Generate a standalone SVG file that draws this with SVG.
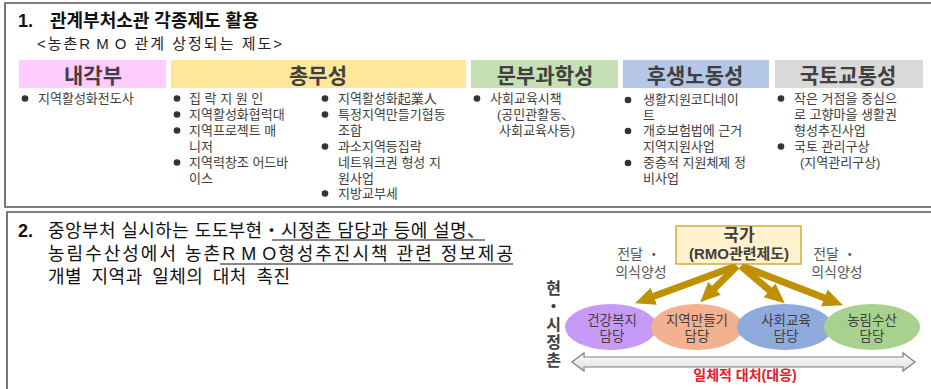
<svg xmlns="http://www.w3.org/2000/svg" width="931" height="389" viewBox="0 0 931 389">
<defs>
<style>
text{font-family:"Liberation Sans","Noto Sans CJK KR",sans-serif;}
.title{font-size:18px;font-weight:700;fill:#111;}
.sub{font-size:15px;fill:#222;}
.hd{font-size:21px;font-weight:700;fill:#404040;text-anchor:middle;}
.li{font-size:13px;fill:#404040;}
.dot{fill:#333;}
.frame{fill:none;stroke:#555;stroke-width:1.6;}
.s2{font-size:18px;fill:#111;}
.ul{stroke:#111;stroke-width:1;}
.lbl{font-size:14px;fill:#595959;text-anchor:middle;}
.el{font-size:13.5px;fill:#404040;text-anchor:middle;}
.arr{stroke:#bf9000;stroke-width:7;fill:none;marker-end:url(#ah);}
</style>
<marker id="ah" markerUnits="userSpaceOnUse" markerWidth="22" markerHeight="20" refX="8" refY="9" orient="auto">
<path d="M0,0 L20,9 L0,18 z" fill="#bf9000"/>
</marker>
<linearGradient id="ga" x1="0" y1="0" x2="0" y2="1">
<stop offset="0" stop-color="#ffffff"/>
<stop offset="1" stop-color="#dcdcdc"/>
</linearGradient>
</defs>

<g id="section1">
<path class="frame" d="M940,3 H5 V207 H940"/>
<text class="title" x="18" y="27">1.</text>
<text class="title" x="50" y="27">관계부처소관 각종제도 활용</text>
<text class="sub" x="37" y="49" textLength="245" lengthAdjust="spacing">&lt;농촌<tspan letter-spacing="4">RM</tspan>O 관계 상정되는 제도&gt;</text>
</g>

<g id="head-naikaku">
<rect x="19" y="60" width="147" height="28" fill="#ffccff"/>
<text class="hd" x="93" y="83">내각부</text>
</g>
<g id="head-somu">
<rect x="171" y="60" width="295" height="28" fill="#ffe699"/>
<text class="hd" x="318" y="83">총무성</text>
</g>
<g id="head-monbu">
<rect x="471" y="60" width="147" height="28" fill="#c5e0b4"/>
<text class="hd" x="545" y="83">문부과학성</text>
</g>
<g id="head-kosei">
<rect x="623" y="60" width="146" height="28" fill="#b4c7e7"/>
<text class="hd" x="695" y="83">후생노동성</text>
</g>
<g id="head-kokudo">
<rect x="775" y="60" width="148" height="28" fill="#d9d9d9"/>
<text class="hd" x="848" y="83">국토교통성</text>
</g>

<g id="list-naikaku">
<circle class="dot" cx="25" cy="98.5" r="3.3"/>
<text class="li" x="38" y="103">지역활성화전도사</text>
</g>

<g id="list-somu-a">
<circle class="dot" cx="177" cy="98.5" r="3.3"/>
<text class="li" x="189" y="103">집 락 지 원 인</text>
<circle class="dot" cx="177" cy="114.5" r="3.3"/>
<text class="li" x="189" y="119">지역활성화협력대</text>
<circle class="dot" cx="177" cy="130.5" r="3.3"/>
<text class="li" x="189" y="135">지역프로젝트 매</text>
<text class="li" x="189" y="151">니저</text>
<circle class="dot" cx="177" cy="162.5" r="3.3"/>
<text class="li" x="189" y="167">지역력창조 어드바</text>
<text class="li" x="189" y="183">이스</text>
</g>

<g id="list-somu-b">
<circle class="dot" cx="325" cy="98.5" r="3.3"/>
<text class="li" x="338" y="103">지역활성화起業人</text>
<circle class="dot" cx="325" cy="114.5" r="3.3"/>
<text class="li" x="338" y="119">특정지역만들기협동</text>
<text class="li" x="338" y="135">조합</text>
<circle class="dot" cx="325" cy="146.5" r="3.3"/>
<text class="li" x="338" y="151">과소지역등집락</text>
<text class="li" x="338" y="167">네트워크권 형성 지</text>
<text class="li" x="338" y="183">원사업</text>
<circle class="dot" cx="325" cy="193.5" r="3.3"/>
<text class="li" x="338" y="198">지방교부세</text>
</g>

<g id="list-monbu">
<circle class="dot" cx="477" cy="98.5" r="3.3"/>
<text class="li" x="490" y="103">사회교육시책</text>
<text class="li" x="497" y="119">(공민관활동、</text>
<text class="li" x="499" y="135">사회교육사등)</text>
</g>

<g id="list-kosei">
<circle class="dot" cx="628" cy="100" r="3.3"/>
<text class="li" x="643" y="104">생활지원코디네이</text>
<text class="li" x="643" y="120">트</text>
<circle class="dot" cx="628" cy="131" r="3.3"/>
<text class="li" x="643" y="135">개호보험법에 근거</text>
<text class="li" x="643" y="151">지역지원사업</text>
<circle class="dot" cx="628" cy="163" r="3.3"/>
<text class="li" x="643" y="167">중층적 지원체제 정</text>
<text class="li" x="643" y="183">비사업</text>
</g>

<g id="list-kokudo">
<circle class="dot" cx="781" cy="98.5" r="3.3"/>
<text class="li" x="794" y="103">작은 거점을 중심으</text>
<text class="li" x="794" y="119">로 고향마을 생활권</text>
<text class="li" x="794" y="135">형성추진사업</text>
<circle class="dot" cx="781" cy="146.5" r="3.3"/>
<text class="li" x="794" y="151">국토 관리구상</text>
<text class="li" x="800" y="167">(지역관리구상)</text>
</g>

<g id="section2">
<path class="frame" d="M940,212 H7 V400"/>
<text class="s2" x="18" y="237" font-weight="700">2.</text>
<text class="s2" x="48" y="237" textLength="437" lengthAdjust="spacing">중앙부처 실시하는 도도부현・시정촌  담당과 등에 설명、</text>
<text class="s2" x="48" y="260" textLength="465" lengthAdjust="spacing">농림수산성에서 농촌<tspan letter-spacing="4">RM</tspan>O형성추진시책 관련 정보제공</text>
<text class="s2" x="48" y="283" word-spacing="4" textLength="242" lengthAdjust="spacing">개별 지역과 일체의 대처 촉진</text>
<line class="ul" x1="272" y1="240" x2="485" y2="240"/>
<line class="ul" x1="220" y1="264" x2="513" y2="264"/>
</g>

<g id="side-label">
<text x="552" y="280" font-size="16" font-weight="700" fill="#404040" writing-mode="vertical-rl" letter-spacing="2">현・시정촌</text>
</g>

<g id="node-health">
<ellipse cx="611" cy="327" rx="46" ry="23" fill="#c89af8"/>
<text class="el" x="612" y="325">건강복지</text>
<text class="el" x="612" y="341">담당</text>
</g>
<g id="node-region">
<ellipse cx="697" cy="327" rx="46" ry="23" fill="#f4b18f"/>
<text class="el" x="697" y="325">지역만들기</text>
<text class="el" x="697" y="341">담당</text>
</g>
<g id="node-social">
<ellipse cx="785" cy="327" rx="48" ry="23" fill="#8faadc"/>
<text class="el" x="786" y="325">사회교육</text>
<text class="el" x="786" y="341">담당</text>
</g>
<g id="node-agri">
<ellipse cx="872" cy="327" rx="48" ry="23" fill="#a9d18e"/>
<text class="el" x="872" y="325">농림수산</text>
<text class="el" x="872" y="341">담당</text>
</g>

<g id="connectors">
<line class="arr" x1="736" y1="266" x2="646.3" y2="299"/>
<line class="arr" x1="737" y1="266" x2="708.8" y2="293.9"/>
<line class="arr" x1="741" y1="266" x2="775.6" y2="295.5"/>
<line class="arr" x1="742" y1="266" x2="831.8" y2="300.8"/>
</g>

<g id="node-state">
<rect x="676" y="226" width="125" height="38" fill="#fff2cc" stroke="#c9a227" stroke-width="1.3"/>
<text x="739" y="241" font-size="17" font-weight="700" fill="#404040" text-anchor="middle">국가</text>
<text x="739" y="259" font-size="15" font-weight="700" fill="#404040" text-anchor="middle">(RMO관련제도)</text>
</g>

<g id="label-left">
<text class="lbl" x="639" y="259">전달 ・</text>
<text class="lbl" x="641" y="277">의식양성</text>
</g>
<g id="label-right">
<text class="lbl" x="835" y="259">전달 ・</text>
<text class="lbl" x="837" y="277">의식양성</text>
</g>

<g id="joint-arrow">
<polygon points="572,362 584,353 584,357 903,357 903,353 915,362 903,371 903,367 584,367 584,371" fill="url(#ga)" stroke="#7f7f7f" stroke-width="1.2"/>
<text x="745" y="380" font-size="14" font-weight="700" fill="#e0202c" text-anchor="middle">일체적 대처(대응)</text>
</g>
</svg>
